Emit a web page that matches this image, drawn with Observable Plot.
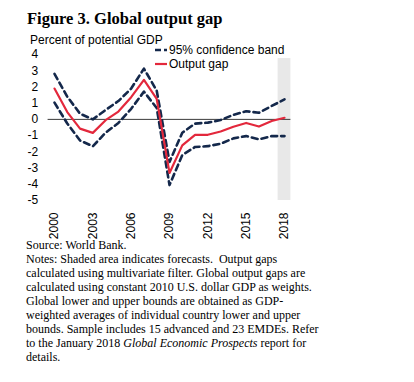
<!DOCTYPE html>
<html>
<head>
<meta charset="utf-8">
<script src="https://cdn.jsdelivr.net/npm/d3@7"></script>
<script src="https://cdn.jsdelivr.net/npm/@observablehq/plot@0.6"></script>
<style>
  html, body { margin: 0; padding: 0; background: #fff; }
  #wrap { position: relative; width: 414px; height: 382px; overflow: hidden; }
  #title { position: absolute; left: 27px; top: 9px; font-family: "Liberation Serif", serif; font-weight: bold; font-size: 16.5px; color: #000; white-space: nowrap; }
  #ylab { position: absolute; left: 30px; top: 34px; font-family: "Liberation Sans", Arial, sans-serif; font-size: 12px; line-height: 12px; color: #000; white-space: nowrap; }
  #chart { position: absolute; left: 0; top: 0; }
  #legend { position: absolute; left: 155px; top: 43px; font-family: "Liberation Sans", Arial, sans-serif; font-size: 12px; color: #000; }
  .li { display: flex; align-items: center; height: 14px; white-space: nowrap; }
  .li svg { margin-right: 2px; }
  #notes { position: absolute; left: 26px; top: 238px; font-family: "Liberation Serif", serif; font-size: 12px; line-height: 14px; color: #000; white-space: nowrap; }
</style>
</head>
<body>
<div id="wrap">
  <div id="title">Figure 3. Global output gap</div>
  <div id="chart"></div>
  <div id="ylab">Percent of potential GDP</div>
  <div id="legend"></div>
  <div id="notes"></div>
</div>
<script>
const years = [2000,2001,2002,2003,2004,2005,2006,2007,2008,2009,2010,2011,2012,2013,2014,2015,2016,2017,2018];
const outputGap = [1.9,0.45,-0.57,-0.83,-0.05,0.48,1.37,2.44,1.26,-3.3,-1.6,-0.95,-0.95,-0.75,-0.45,-0.22,-0.44,-0.1,0.1];
const upperBand = [2.8,1.4,0.35,0.0,0.58,1.13,1.9,3.13,1.77,-2.62,-0.82,-0.26,-0.2,-0.04,0.28,0.5,0.41,0.83,1.23];
const lowerBand = [1.03,-0.25,-1.3,-1.66,-0.82,-0.22,0.65,1.71,0.7,-4.05,-2.2,-1.7,-1.65,-1.5,-1.17,-1.03,-1.23,-1.03,-1.03];
const forecastYears = [2018];
const xTicks = [2000,2003,2006,2009,2012,2015,2018];
const yTicks = [-5,-4,-3,-2,-1,0,1,2,3,4];
const legendLabels = ["95% confidence band", "Output gap"];

const navy = "#14284b";
const red = "#e3283c";

const rows = years.map((y, i) => ({year: y, gap: outputGap[i], upper: upperBand[i], lower: lowerBand[i]}));

const chart = Plot.plot({
  width: 414,
  height: 240,
  marginTop: 54,
  marginBottom: 40,
  marginLeft: 47.6,
  marginRight: 123.6,
  style: {fontFamily: "'Liberation Sans', Arial, sans-serif", fontSize: "12px", color: "#000", background: "transparent"},
  x: {domain: [1999.5, 2018.5]},
  y: {domain: [-5, 4]},
  marks: [
    Plot.rect(forecastYears, {x1: d => d - 0.5, x2: d => d + 0.5, y1: -5, y2: 3.75, fill: "#e8e8e8"}),
    Plot.ruleY([0], {stroke: "#3a3a3a", strokeWidth: 1}),
    Plot.line(rows, {x: "year", y: "upper", stroke: navy, strokeWidth: 2.6, strokeDasharray: "6,4"}),
    Plot.line(rows, {x: "year", y: "lower", stroke: navy, strokeWidth: 2.6, strokeDasharray: "6,4"}),
    Plot.line(rows, {x: "year", y: "gap", stroke: red, strokeWidth: 2.2}),
    Plot.axisX({ticks: xTicks, tickFormat: d => String(d), tickRotate: -90, tickSize: 0, tickPadding: 12, fontSize: 12, label: null}),
    Plot.axisY({ticks: yTicks, tickFormat: d => String(d), tickSize: 0, tickPadding: 10, fontSize: 12, label: null})
  ]
});
document.getElementById("chart").appendChild(chart);

const legend = document.getElementById("legend");
legend.innerHTML =
  `<div class="li"><svg width="12" height="6"><line x1="0" y1="3" x2="12" y2="3" stroke="${navy}" stroke-width="2.6" stroke-dasharray="6,3"/></svg>${legendLabels[0]}</div>` +
  `<div class="li"><svg width="12" height="6"><line x1="0" y1="3" x2="12" y2="3" stroke="${red}" stroke-width="2.2"/></svg>${legendLabels[1]}</div>`;

document.getElementById("notes").innerHTML = [
  "Source: World Bank.",
  "Notes: Shaded area indicates forecasts.&nbsp; Output gaps",
  "calculated using multivariate filter. Global output gaps are",
  "calculated using constant 2010 U.S. dollar GDP as weights.",
  "Global lower and upper bounds are obtained as GDP-",
  "weighted averages of individual country lower and upper",
  "bounds. Sample includes 15 advanced and 23 EMDEs. Refer",
  "to the January 2018 <i>Global Economic Prospects</i> report for",
  "details."
].join("<br>");
</script>
</body>
</html>
